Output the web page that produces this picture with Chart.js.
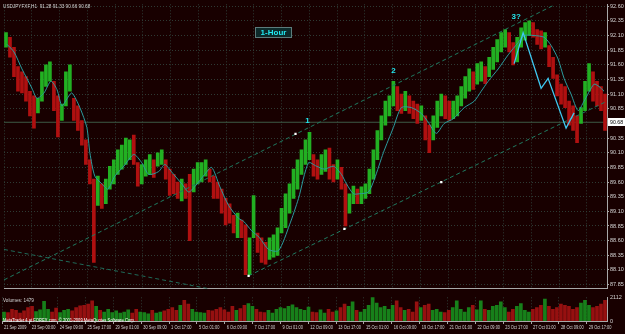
<!DOCTYPE html>
<html>
<head>
<meta charset="utf-8">
<script src="https://cdn.jsdelivr.net/npm/chart.js@4.4.1/dist/chart.umd.min.js"></script>
<style>
  html, body { margin: 0; padding: 0; background: #180000; }
  #wrap { position: relative; width: 625px; height: 334px; overflow: hidden; }
  canvas { position: absolute; left: 0; }
  #price { top: 0; }
  #vol { top: 293px; }
</style>
</head>
<body>
<div id="wrap">
  <canvas id="price" width="625" height="293"></canvas>
  <canvas id="vol" width="625" height="41"></canvas>
</div>
<script>
// USDJPY H1, 21 Sep - 29 Oct 2009 (one entry ~ one bar group)
const highs = [92.15,92.07,91.90,91.57,91.48,91.40,91.15,91.07,91.03,91.48,
  91.60,91.65,91.32,91.07,90.93,91.48,91.60,91.03,90.90,90.65,
  90.32,89.98,89.65,89.70,89.57,89.65,89.87,89.98,90.15,90.23,
  90.35,90.32,90.40,89.93,89.90,89.98,90.07,89.98,90.10,90.15,
  89.98,89.82,89.73,89.60,89.65,89.57,89.73,89.82,89.93,89.93,
  89.98,89.82,89.70,89.60,89.48,89.32,89.23,89.03,89.07,88.95,
  88.87,88.65,89.37,88.73,88.65,88.57,88.65,88.70,88.82,89.15,
  89.40,89.57,89.82,89.98,90.15,90.32,90.45,90.07,89.98,90.07,
  90.15,90.18,89.90,89.98,89.85,89.57,89.40,89.53,89.48,89.52,
  89.57,89.82,90.15,90.48,90.73,90.98,91.07,91.32,91.23,91.10,
  91.15,91.07,90.98,90.93,90.90,90.73,90.57,90.73,90.98,91.10,
  91.07,90.98,90.98,91.07,91.23,91.40,91.53,91.48,91.62,91.65,
  91.57,91.73,91.90,92.03,92.15,92.20,92.15,91.98,92.07,92.23,
  92.32,92.35,92.32,92.20,92.18,92.15,91.93,91.73,91.43,91.27,
  91.23,90.98,90.90,90.73,90.87,91.32,91.62,91.48,91.32,91.23,
  91.10]
const lows = [91.90,91.73,91.40,91.15,91.12,90.98,90.73,90.52,90.78,90.98,
  91.23,91.32,90.82,90.37,90.65,90.90,91.15,90.65,90.48,90.23,
  89.90,89.57,88.23,89.20,89.15,89.23,89.48,89.57,89.73,89.82,
  89.90,89.98,89.90,89.53,89.57,89.70,89.73,89.68,89.87,89.90,
  89.65,89.37,89.40,89.32,89.28,89.32,88.60,89.43,89.57,89.60,
  89.70,89.60,89.32,89.32,89.07,88.87,88.90,88.73,88.65,88.65,
  88.02,88.02,88.65,88.40,88.23,88.20,88.28,88.32,88.35,88.73,
  88.82,89.07,89.32,89.48,89.73,89.90,89.98,89.70,89.65,89.73,
  89.78,89.65,89.60,89.65,89.48,88.85,89.07,89.23,89.23,89.23,
  89.32,89.40,89.65,89.98,90.32,90.57,90.73,90.90,90.82,90.77,
  90.82,90.77,90.68,90.60,90.65,90.32,90.10,90.32,90.53,90.73,
  90.68,90.65,90.68,90.73,90.90,91.03,91.15,91.18,91.27,91.32,
  91.28,91.40,91.52,91.65,91.82,91.90,91.82,91.60,91.65,91.90,
  92.02,92.10,92.07,91.95,91.87,91.90,91.57,91.37,91.07,90.93,
  90.87,90.57,90.48,90.27,90.60,90.82,91.15,90.98,90.90,90.82,
  90.48]
// G = bull bar, R = bear bar
const barDirs = 'GRRRRRRRGG' + 'GGRRGGGRRR' + 'RRRGRGGGGG' + 'GGRRGGGRGG' + 'RRRRGRRGGG' +
  'GRRRRRRRGR' + 'RGGRRRGGGG' + 'GGGGGGGRRG' + 'GRRGRRGGRG' + 'GGGGGGGGRR' +
  'GRRRGRRGGG' + 'RRGGGGGRGG' + 'RGGGGGRRGG' + 'GGRRRGRRRR' + 'RRRRGGGRRRR'
const volumes = [800,750,1050,950,700,900,1200,1300,850,1000,
  1750,1050,800,1150,750,950,1050,900,1200,1350,
  1400,1500,1800,1300,950,800,1050,750,900,700,
  800,1000,700,1050,800,750,650,950,700,800,
  900,1050,1200,950,1400,1850,1500,1050,800,750,
  700,950,900,1050,1200,1000,800,1300,950,1100,
  1400,1550,1300,1050,800,750,950,700,1050,1200,
  1100,1300,1450,1200,1050,950,1250,800,750,1000,
  700,1050,800,900,1200,1500,1300,1700,950,800,
  1050,1400,2100,1600,1200,1300,1050,1400,1800,1200,
  950,1050,800,1700,1200,1400,1500,950,1050,800,
  750,950,1200,1800,1050,800,1200,1400,1000,1800,
  1050,950,1300,1400,1700,1200,800,1050,1300,1550,
  950,800,1050,1200,1400,1950,1300,1050,1200,1500,
  1400,1300,1050,1200,1600,1850,1400,1200,1300,1500,
  1850]

// moving average as drawn on the chart
const maBars = [0.25,2,4,6.5,7.75,9.5,11.25,12.75,14,15.25,16.5,18.5,20.25,21,22.25,24,25.5,27.25,29.5,32,
  34,35.75,38.25,39.75,41.5,44,45.75,47.25,49.75,51.5,53.5,55.75,58.25,59.5,61.5,63.5,65.75,68.25,71,73.25,
  75.75,77.75,79.75,82,84,85.25,87,88.5,90.75,92.25,94.5,97,99,101.5,104,105.75,107.75,109.75,112,114.75,
  117.25,119,120.75,123.25,125.75,128.25,129.75,132.25,134.75,136.5,138.25,139.75,141.5,143.25,144.75,147.25,148.5,149.75]
const maPrices = [91.95,91.82,91.53,91.20,91.03,91.12,91.32,91.18,90.90,91.02,91.12,90.87,90.53,90.10,89.70,89.57,89.48,89.70,89.87,90.07,
  89.93,89.73,89.78,89.90,89.77,89.57,89.43,89.52,89.73,89.85,89.53,89.20,88.98,88.93,88.77,88.65,88.45,88.43,88.87,89.32,
  89.93,89.87,89.82,89.87,89.73,89.57,89.40,89.40,89.43,89.65,90.10,90.53,90.87,90.87,90.77,90.62,90.43,90.60,90.68,90.87,
  90.98,91.15,91.32,91.53,91.77,91.98,92.10,92.10,92.07,91.93,91.70,91.37,91.10,90.82,90.98,91.27,91.23,91.15]

// wave zigzag
const waveBars = [127.25, 129.5, 134, 135.75, 140.25, 142.25]
const wavePrices = [91.62, 92.15, 91.20, 91.37, 90.52, 90.78]

// trend lines
const upperBars = [-0.5, 137.25]
const upperPrices = [87.93, 92.62]
const lowerBars = [60.75, 150.5]
const lowerPrices = [88.00, 90.98]
const baseBars = [-0.5, 50.75]
const basePrices = [88.45, 87.78]
const markerBars = [60.75, 72.5, 84.75, 109]
const markerPrices = [88.00, 90.42, 88.80, 89.60]

const waveNames = ['1', '2', '3?']
const waveNameBars = [75.5, 97, 127.75]
const waveNamePrices = [90.65, 91.50, 92.42]

const bidPrice = 90.62
const lastPrice = '90.68'

const priceTicks = ['92.60','92.35','92.10','91.85','91.60','91.35','91.10','90.85','90.35','90.10',
  '89.85','89.60','89.35','89.10','88.85','88.60','88.35','88.10','87.85']
const timeLabels = ['21 Sep 2009','23 Sep 00:00','24 Sep 09:00','25 Sep 17:00','29 Sep 01:00','30 Sep 09:00',
  '1 Oct 17:00','5 Oct 01:00','6 Oct 09:00','7 Oct 17:00','9 Oct 01:00','12 Oct 09:00','13 Oct 17:00',
  '15 Oct 01:00','16 Oct 09:00','19 Oct 17:00','21 Oct 01:00','22 Oct 09:00','23 Oct 17:00','27 Oct 01:00',
  '28 Oct 09:00','29 Oct 17:00']
const volumeMax = 2112

const BG = '#180000'
const GRID = '#2e3a34'
const AXIS = '#a8a8a8'
const TXT = '#d4d4d4'
const FONT = "'Liberation Sans', sans-serif"
const labelStep = 6.95
const tickPos = timeLabels.map((_, k) => -0.5 + k * labelStep)
const n = highs.length

const pts = (xs, ys) => xs.map((x, i) => ({ x: x, y: ys[i] }))
const dirColor = (g, r) => barDirs.split('').map(d => d === 'G' ? g : r)

// small squeezed text, like the terminal's narrow font
function tinyText(c, txt, x, y, squeeze, color) {
  c.save()
  c.translate(x, y)
  c.scale(squeeze, 1)
  c.font = '5.5px ' + FONT
  c.textBaseline = 'middle'
  c.textAlign = 'left'
  c.fillStyle = color
  c.fillText(txt, 0, 0)
  c.restore()
}

const bgPlugin = {
  id: 'bg',
  beforeDraw(chart) {
    const c = chart.ctx
    c.save()
    c.fillStyle = BG
    c.fillRect(0, 0, chart.width, chart.height)
    c.restore()
  }
}

const priceOverlay = {
  id: 'priceOverlay',
  afterDraw(chart) {
    const c = chart.ctx
    const xs = chart.scales.x, ys = chart.scales.y
    tinyText(c, 'USDJPYFXF,H1  91.28 91.33 90.66 90.68', 3, 6, 0.85, TXT)

    c.save()
    // timeframe tag
    c.fillStyle = '#0d2a2a'
    c.fillRect(255, 27, 37, 11)
    c.strokeStyle = '#5c7c7c'
    c.lineWidth = 1
    c.strokeRect(255.5, 27.5, 36, 10)
    c.fillStyle = '#22e8f0'
    c.font = 'bold 8px ' + FONT
    c.textAlign = 'center'
    c.textBaseline = 'middle'
    c.fillText('1-Hour', 273.5, 32.5)

    // wave counts
    waveNames.forEach((t, i) => {
      c.fillText(t, xs.getPixelForValue(waveNameBars[i]), ys.getPixelForValue(waveNamePrices[i]))
    })

    // last price box
    const py = Math.round(ys.getPixelForValue(bidPrice))
    c.fillStyle = '#ffffff'
    c.fillRect(608, py - 4, 17, 8)
    c.restore()
    tinyText(c, lastPrice, 610, py + 0.5, 0.95, '#000000')
  }
}

new Chart(document.getElementById('price'), {
  type: 'bar',
  data: {
    datasets: [
      {
        label: 'bars',
        data: highs.map((h, i) => ({ x: i, y: [lows[i], h] })),
        backgroundColor: dirColor('#22b022', '#b01010'),
        barThickness: 3,
        borderWidth: 0,
        order: 5
      },
      {
        type: 'line', label: 'bid',
        data: [{ x: -0.5, y: bidPrice }, { x: n - 0.5, y: bidPrice }],
        borderColor: '#3d5a45', borderWidth: 1, pointRadius: 0, order: 6
      },
      {
        type: 'line', label: 'upper',
        data: pts(upperBars, upperPrices),
        borderColor: '#1f7a60', borderWidth: 1, borderDash: [4, 3], pointRadius: 0, order: 3
      },
      {
        type: 'line', label: 'lower',
        data: pts(lowerBars, lowerPrices),
        borderColor: '#1f7a60', borderWidth: 1, borderDash: [4, 3], pointRadius: 0, order: 3
      },
      {
        type: 'line', label: 'base',
        data: pts(baseBars, basePrices),
        borderColor: '#1f6a58', borderWidth: 1, borderDash: [4, 3], pointRadius: 0, order: 3
      },
      {
        type: 'line', label: 'ma',
        data: pts(maBars, maPrices),
        borderColor: '#2a9c9e', borderWidth: 1, pointRadius: 0, tension: 0.25, order: 2
      },
      {
        type: 'line', label: 'wave',
        data: pts(waveBars, wavePrices),
        borderColor: '#3fc8f0', borderWidth: 1.3, pointRadius: 0, order: 1
      },
      {
        type: 'scatter', label: 'anchors',
        data: pts(markerBars, markerPrices),
        backgroundColor: '#ffffff', borderWidth: 0, pointStyle: 'rect', pointRadius: 1.6, order: 0
      }
    ]
  },
  options: {
    responsive: false,
    animation: false,
    layout: { padding: { left: 2, top: 1, right: 0, bottom: 1 } },
    plugins: { legend: { display: false }, tooltip: { enabled: false } },
    scales: {
      x: {
        type: 'linear', min: -0.5, max: n - 0.5, offset: false,
        afterBuildTicks: s => { s.ticks = tickPos.map(v => ({ value: v })) },
        afterFit: s => { s.height = 0 },
        ticks: { display: false },
        grid: { color: GRID, drawTicks: false, offset: false },
        border: { display: true, color: AXIS, dash: [1, 2] }
      },
      y: {
        type: 'linear', position: 'right', min: 87.78, max: 92.633,
        afterBuildTicks: s => { s.ticks = priceTicks.map(v => ({ value: parseFloat(v) })) },
        afterFit: s => { s.width = 18 },
        ticks: {
          callback: v => v.toFixed(2), color: TXT, padding: 1,
          font: { size: 5.5, family: FONT }, autoSkip: false
        },
        grid: { color: GRID, tickColor: AXIS, tickLength: 2 },
        border: { display: true, color: AXIS, dash: [1, 2] }
      }
    }
  },
  plugins: [bgPlugin, priceOverlay]
})

const volOverlay = {
  id: 'volOverlay',
  afterDraw(chart) {
    const c = chart.ctx
    const xs = chart.scales.x
    tinyText(c, 'Volumes: 1479', 3, 7, 0.85, TXT)
    tinyText(c, 'MetaTrader 4 at FOREX.com, \u00a9 2001-2009 MetaQuotes Software Corp.', 3, 27.5, 0.75, '#ffffff')
    timeLabels.forEach((t, k) => {
      tinyText(c, t, xs.getPixelForValue(tickPos[k]) + 2, 34.5, 0.72, TXT)
    })
  }
}

new Chart(document.getElementById('vol'), {
  type: 'bar',
  data: {
    datasets: [{
      label: 'volume',
      data: volumes.map((v, i) => ({ x: i, y: v })),
      backgroundColor: dirColor('#17801a', '#961010'),
      barThickness: 3,
      borderWidth: 0
    }]
  },
  options: {
    responsive: false,
    animation: false,
    layout: { padding: { left: 2, top: 2, right: 0, bottom: 0 } },
    plugins: { legend: { display: false }, tooltip: { enabled: false } },
    scales: {
      x: {
        type: 'linear', min: -0.5, max: n - 0.5, offset: false,
        afterBuildTicks: s => { s.ticks = tickPos.map(v => ({ value: v })) },
        afterFit: s => { s.height = 13 },
        ticks: { display: false },
        grid: { color: GRID, tickColor: AXIS, tickLength: 3, offset: false },
        border: { display: true, color: AXIS, dash: [1, 2] }
      },
      y: {
        type: 'linear', position: 'right', min: 0, max: volumeMax,
        afterBuildTicks: s => { s.ticks = [{ value: volumeMax }, { value: 0 }] },
        afterFit: s => { s.width = 18 },
        ticks: { color: TXT, padding: 1, font: { size: 5.5, family: FONT }, callback: v => String(v) },
        grid: { display: false, tickColor: AXIS, tickLength: 2 },
        border: { display: true, color: AXIS }
      }
    }
  },
  plugins: [bgPlugin, volOverlay]
})
</script>
</body>
</html>
